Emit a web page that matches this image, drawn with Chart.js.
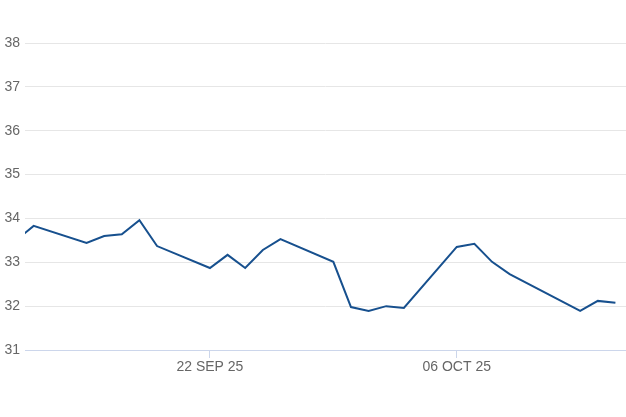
<!DOCTYPE html>
<html>
<head>
<meta charset="utf-8">
<script src="https://cdn.jsdelivr.net/npm/chart.js@4/dist/chart.umd.min.js"></script>
<style>
  html, body { margin: 0; padding: 0; background: #fff; }
  #wrap { width: 626px; height: 417px; }
</style>
</head>
<body>
<div id="wrap"><canvas id="myChart"></canvas></div>
<script>
// daily closes
const dates = [
  "2025-09-11", "2025-09-12", "2025-09-15", "2025-09-16", "2025-09-17", "2025-09-18", "2025-09-19",
  "2025-09-22", "2025-09-23", "2025-09-24", "2025-09-25", "2025-09-26",
  "2025-09-29", "2025-09-30", "2025-10-01", "2025-10-02", "2025-10-03",
  "2025-10-06", "2025-10-07", "2025-10-08", "2025-10-09",
  "2025-10-13", "2025-10-14", "2025-10-15"
];
const values = [
  33.50, 33.83, 33.44, 33.60, 33.64, 33.96, 33.37,
  32.87, 33.17, 32.87, 33.28, 33.53,
  33.01, 31.98, 31.89, 32.00, 31.96,
  33.35, 33.42, 33.01, 32.73,
  31.89, 32.12, 32.08
];
const tickDates = ["2025-09-22", "2025-10-06"];
const yTicks = [31, 32, 33, 34, 35, 36, 37, 38];

const months = ["JAN", "FEB", "MAR", "APR", "MAY", "JUN", "JUL", "AUG", "SEP", "OCT", "NOV", "DEC"];
const origin = Date.UTC(2025, 8, 0);

// day number counted from 31 Aug 2025
function dayNum(s) {
  const p = s.split("-").map(Number);
  return (Date.UTC(p[0], p[1] - 1, p[2]) - origin) / 86400000;
}

function formatDay(n) {
  const d = new Date(origin + n * 86400000);
  const dd = String(d.getUTCDate()).padStart(2, "0");
  const yy = String(d.getUTCFullYear()).slice(2);
  return dd + " " + months[d.getUTCMonth()] + " " + yy;
}

const points = dates.map((d, i) => ({ x: dayNum(d), y: values[i] }));

const font = { family: "'Liberation Sans', Arial, sans-serif", size: 14 };

const ctx = document.getElementById("myChart").getContext("2d");
const chart = new Chart(ctx, {
  type: "line",
  data: {
    datasets: [{
      data: points,
      borderColor: "#17508e",
      borderWidth: 2,
      pointRadius: 0,
      tension: 0,
      fill: false
    }]
  },
  options: {
    responsive: true,
    maintainAspectRatio: false,
    animation: false,
    layout: { padding: { top: 43, right: 0, bottom: 0, left: 0 } },
    plugins: {
      legend: { display: false },
      tooltip: { enabled: false }
    },
    scales: {
      x: {
        type: "linear",
        min: dayNum("2025-09-11") + 0.51,
        max: dayNum("2025-10-15") + 0.6,
        afterBuildTicks: (scale) => {
          scale.ticks = tickDates.map(d => ({ value: dayNum(d) }));
        },
        afterFit: (scale) => { scale.height = 67; },
        ticks: {
          callback: (v) => formatDay(v),
          color: "#666666",
          font: font,
          padding: 1,
          maxRotation: 0,
          autoSkip: false
        },
        grid: {
          drawOnChartArea: false,
          drawTicks: true,
          tickLength: 8,
          color: "#ccd6eb"
        },
        border: { display: true, color: "#ccd6eb", width: 1 }
      },
      y: {
        min: 31,
        max: 38,
        afterBuildTicks: (scale) => {
          scale.ticks = yTicks.map(v => ({ value: v }));
        },
        afterFit: (scale) => { scale.width = 25; },
        ticks: {
          color: "#666666",
          font: font,
          padding: 5
        },
        grid: {
          drawTicks: false,
          color: "#e6e6e6"
        },
        border: { display: false }
      }
    }
  }
});
</script>
</body>
</html>
